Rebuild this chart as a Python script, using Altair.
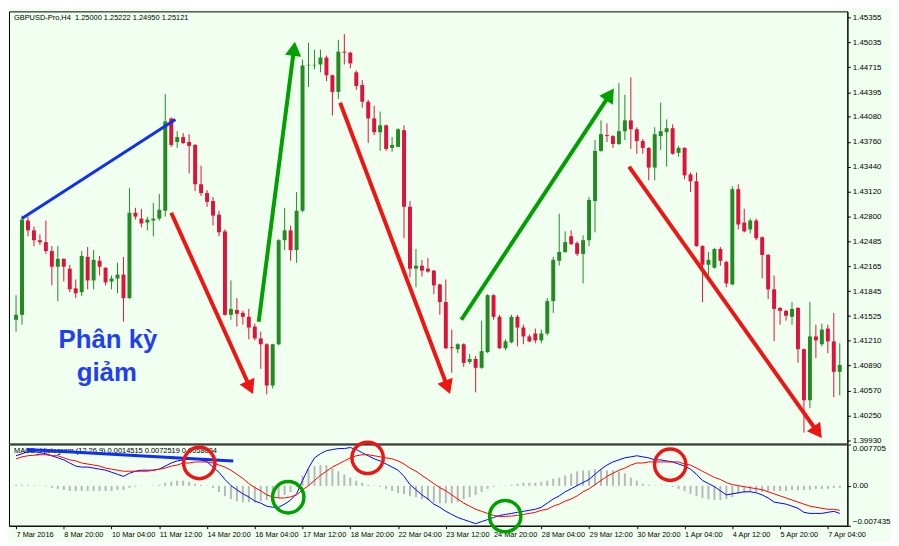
import json
import altair as alt
import pandas as pd

# ---------------- data ----------------
x_labels = ["7 Mar 2016", "8 Mar 20:00", "10 Mar 04:00", "11 Mar 12:00", "14 Mar 20:00",
            "16 Mar 04:00", "17 Mar 12:00", "18 Mar 20:00", "22 Mar 04:00", "23 Mar 12:00",
            "24 Mar 20:00", "28 Mar 04:00", "29 Mar 12:00", "30 Mar 20:00", "1 Apr 04:00",
            "4 Apr 12:00", "5 Apr 20:00", "7 Apr 04:00"]
x_label_pos = [0, 8, 16, 24, 32, 40, 48, 56, 64, 72, 80, 88, 96, 104, 112, 120, 128, 136]

price_ticks = [1.45355, 1.45035, 1.44715, 1.44395, 1.44080, 1.43760, 1.43440, 1.43120, 1.42800,
               1.42485, 1.42165, 1.41845, 1.41525, 1.41210, 1.40890, 1.40570, 1.40250, 1.39930]
macd_ticks = [0.007705, 0.0, -0.007435]

opens = [
    1.41478, 1.41541, 1.42750, 1.42624, 1.42498, 1.42473, 1.42359, 1.42158, 1.42259, 1.42133,
    1.41881, 1.41831, 1.42284, 1.41982, 1.42234, 1.42145, 1.41969, 1.42007, 1.42057, 1.41755,
    1.42850, 1.42775, 1.42724, 1.42750, 1.42775, 1.42875, 1.44059, 1.43757, 1.43820, 1.43757,
    1.43719, 1.43215, 1.43102, 1.43001, 1.42825, 1.42611, 1.41541, 1.41604, 1.41566, 1.41516,
    1.41390, 1.41239, 1.41164, 1.40635, 1.41164, 1.42498, 1.42624, 1.42372, 1.42875, 1.44738,
    1.44738, 1.44751, 1.44839, 1.44613, 1.44399, 1.44915, 1.44902, 1.44650, 1.44487, 1.44273,
    1.44059, 1.43882, 1.43971, 1.43681, 1.43694, 1.43908, 1.42926, 1.42133, 1.42171, 1.42133,
    1.42108, 1.41931, 1.41705, 1.41126, 1.41101, 1.41164, 1.40937, 1.40975, 1.40862, 1.41063,
    1.41793, 1.41516, 1.41113, 1.41189, 1.41516, 1.41378, 1.41264, 1.41302, 1.41214, 1.41302,
    1.41717, 1.42234, 1.42347, 1.42548, 1.42460, 1.42322, 1.42498, 1.43001, 1.43643, 1.43845,
    1.43832, 1.43731, 1.43895, 1.44034, 1.43920, 1.43769, 1.43681, 1.43429, 1.43832, 1.43882,
    1.43933, 1.43618, 1.43681, 1.43341, 1.43253, 1.42422, 1.42183, 1.42145, 1.42385, 1.42221,
    1.41931, 1.43152, 1.42724, 1.42636, 1.42750, 1.42536, 1.42309, 1.41868, 1.41629, 1.41592,
    1.41516, 1.41629, 1.41101, 1.40446, 1.41264, 1.41164, 1.41365, 1.41201, 1.40811]

highs = [
    1.41793, 1.42813, 1.42800, 1.42674, 1.42573, 1.42750, 1.42422, 1.42422, 1.42265, 1.42183,
    1.41994, 1.42359, 1.42410, 1.42372, 1.42296, 1.42150, 1.42045, 1.42208, 1.42284, 1.43165,
    1.42913, 1.42901, 1.42800, 1.42976, 1.43089, 1.44373, 1.44071, 1.43895, 1.43870, 1.43857,
    1.43731, 1.43454, 1.43140, 1.43052, 1.42875, 1.42636, 1.41982, 1.41755, 1.41592, 1.41617,
    1.41428, 1.41327, 1.41176, 1.41170, 1.42510, 1.42913, 1.42687, 1.43115, 1.44814, 1.45028,
    1.44940, 1.44940, 1.44864, 1.44620, 1.45066, 1.45141, 1.44915, 1.44675, 1.44550, 1.44298,
    1.44222, 1.44147, 1.43980, 1.43820, 1.43933, 1.43971, 1.43001, 1.42385, 1.42246, 1.42271,
    1.42115, 1.41940, 1.41994, 1.41352, 1.41176, 1.41176, 1.41038, 1.41013, 1.41466, 1.41806,
    1.41806, 1.41541, 1.41227, 1.41541, 1.41541, 1.41415, 1.41290, 1.41365, 1.41352, 1.41755,
    1.42284, 1.42838, 1.42611, 1.42624, 1.42485, 1.42561, 1.43052, 1.43782, 1.44034, 1.43996,
    1.43845, 1.44512, 1.44361, 1.44587, 1.43945, 1.43794, 1.43690, 1.43945, 1.44260, 1.44046,
    1.43983, 1.43706, 1.43690, 1.43366, 1.43366, 1.42435, 1.42347, 1.42397, 1.42410, 1.42234,
    1.43190, 1.43215, 1.42901, 1.42775, 1.42775, 1.42548, 1.42322, 1.42045, 1.41642, 1.41604,
    1.41705, 1.41642, 1.41110, 1.41705, 1.41415, 1.41428, 1.41415, 1.41566, 1.41176]

lows = [
    1.41327, 1.41415, 1.42548, 1.42422, 1.42435, 1.42322, 1.41919, 1.41717, 1.41969, 1.41831,
    1.41755, 1.41780, 1.41868, 1.41868, 1.42045, 1.41919, 1.41868, 1.41818, 1.41453, 1.41743,
    1.42762, 1.42662, 1.42624, 1.42548, 1.42750, 1.42800, 1.43694, 1.43681, 1.43731, 1.43354,
    1.43127, 1.43064, 1.42926, 1.42687, 1.42548, 1.41530, 1.41478, 1.41390, 1.41415, 1.41227,
    1.41214, 1.40849, 1.40522, 1.40597, 1.41150, 1.42372, 1.42234, 1.42208, 1.42860, 1.44461,
    1.44688, 1.44650, 1.44537, 1.44096, 1.44310, 1.44751, 1.44701, 1.44424, 1.44197, 1.43744,
    1.43845, 1.43643, 1.43643, 1.43631, 1.43690, 1.42523, 1.42020, 1.41894, 1.42032, 1.42082,
    1.41806, 1.41541, 1.41101, 1.40799, 1.41050, 1.40874, 1.40912, 1.40547, 1.40849, 1.41050,
    1.41478, 1.41101, 1.41088, 1.41176, 1.41138, 1.41164, 1.41189, 1.41176, 1.41176, 1.41277,
    1.41566, 1.42171, 1.42334, 1.42435, 1.42296, 1.41944, 1.42422, 1.42599, 1.43631, 1.43757,
    1.43681, 1.43719, 1.43782, 1.43668, 1.43606, 1.43606, 1.43266, 1.43266, 1.43656, 1.43442,
    1.43593, 1.43568, 1.43278, 1.43115, 1.42415, 1.41705, 1.42045, 1.42133, 1.42171, 1.41894,
    1.41919, 1.42636, 1.42599, 1.42586, 1.42498, 1.42007, 1.41743, 1.41201, 1.41415, 1.41466,
    1.41415, 1.40925, 1.40031, 1.40345, 1.40987, 1.41138, 1.41050, 1.40484, 1.40509]

closes = [
    1.41541, 1.42762, 1.42624, 1.42498, 1.42473, 1.42359, 1.42158, 1.42259, 1.42158, 1.41868,
    1.41818, 1.42296, 1.41982, 1.42246, 1.42158, 1.41957, 1.42007, 1.42057, 1.41755, 1.42850,
    1.42800, 1.42712, 1.42762, 1.42775, 1.42888, 1.44021, 1.43719, 1.43820, 1.43744, 1.43706,
    1.43215, 1.43102, 1.42989, 1.42813, 1.42599, 1.41541, 1.41617, 1.41554, 1.41516, 1.41378,
    1.41239, 1.41164, 1.40635, 1.41164, 1.42498, 1.42624, 1.42372, 1.42875, 1.44738, 1.44746,
    1.44746, 1.44839, 1.44613, 1.44399, 1.44915, 1.44902, 1.44764, 1.44474, 1.44273, 1.44059,
    1.43882, 1.43971, 1.43668, 1.43719, 1.43920, 1.42926, 1.42133, 1.42171, 1.42108, 1.42095,
    1.41919, 1.41705, 1.41113, 1.41113, 1.41164, 1.40925, 1.40975, 1.40862, 1.41075, 1.41793,
    1.41516, 1.41113, 1.41201, 1.41516, 1.41378, 1.41264, 1.41201, 1.41214, 1.41302, 1.41717,
    1.42246, 1.42347, 1.42473, 1.42448, 1.42322, 1.42498, 1.43014, 1.43643, 1.43857, 1.43832,
    1.43731, 1.43895, 1.44034, 1.43920, 1.43769, 1.43681, 1.43429, 1.43857, 1.43895, 1.43933,
    1.43606, 1.43681, 1.43329, 1.43253, 1.42422, 1.42183, 1.42246, 1.42385, 1.42234, 1.41944,
    1.43152, 1.42699, 1.42611, 1.42750, 1.42523, 1.42309, 1.41868, 1.41617, 1.41592, 1.41529,
    1.41617, 1.41101, 1.40446, 1.41264, 1.41214, 1.41352, 1.41201, 1.40811, 1.40899]

macd_line = [
    0.00560, 0.00598, 0.00636, 0.00636, 0.00617, 0.00598, 0.00560, 0.00521, 0.00483, 0.00425,
    0.00368, 0.00349, 0.00349, 0.00330, 0.00310, 0.00291, 0.00253, 0.00215, 0.00176, 0.00234,
    0.00272, 0.00291, 0.00291, 0.00291, 0.00310, 0.00368, 0.00425, 0.00464, 0.00483, 0.00502,
    0.00502, 0.00483, 0.00445, 0.00349, 0.00253, 0.00119, 0.00004, -0.00073, -0.00149, -0.00207,
    -0.00284, -0.00322, -0.00379, -0.00399, -0.00399, -0.00341, -0.00264, -0.00149, 0.00100, 0.00330,
    0.00521, 0.00598, 0.00655, 0.00675, 0.00694, 0.00694, 0.00713, 0.00675, 0.00617, 0.00560,
    0.00502, 0.00464, 0.00406, 0.00349, 0.00291, 0.00176, 0.00023, -0.00073, -0.00169, -0.00245,
    -0.00341, -0.00399, -0.00475, -0.00533, -0.00590, -0.00629, -0.00667, -0.00705, -0.00667, -0.00629,
    -0.00590, -0.00552, -0.00533, -0.00514, -0.00494, -0.00475, -0.00456, -0.00437, -0.00399, -0.00322,
    -0.00245, -0.00188, -0.00111, -0.00054, 0.00004, 0.00061, 0.00119, 0.00215, 0.00310, 0.00387,
    0.00445, 0.00483, 0.00521, 0.00540, 0.00560, 0.00540, 0.00521, 0.00483, 0.00483, 0.00464,
    0.00445, 0.00406, 0.00368, 0.00310, 0.00215, 0.00100, 0.00042, -0.00015, -0.00092, -0.00169,
    -0.00149, -0.00130, -0.00111, -0.00111, -0.00130, -0.00169, -0.00226, -0.00303, -0.00322, -0.00341,
    -0.00379, -0.00418, -0.00494, -0.00514, -0.00514, -0.00514, -0.00494, -0.00475, -0.00514]

signal_line = [
    0.00502, 0.00540, 0.00560, 0.00570, 0.00579, 0.00579, 0.00560, 0.00560, 0.00521, 0.00483,
    0.00464, 0.00425, 0.00406, 0.00387, 0.00368, 0.00330, 0.00310, 0.00291, 0.00272, 0.00272,
    0.00272, 0.00272, 0.00272, 0.00291, 0.00310, 0.00330, 0.00368, 0.00387, 0.00425, 0.00425,
    0.00445, 0.00445, 0.00445, 0.00425, 0.00387, 0.00349, 0.00291, 0.00215, 0.00138, 0.00042,
    -0.00034, -0.00092, -0.00169, -0.00207, -0.00226, -0.00226, -0.00207, -0.00169, -0.00073, 0.00004,
    0.00100, 0.00195, 0.00272, 0.00349, 0.00406, 0.00464, 0.00521, 0.00560, 0.00579, 0.00579,
    0.00560, 0.00540, 0.00521, 0.00502, 0.00464, 0.00406, 0.00330, 0.00272, 0.00195, 0.00119,
    0.00042, -0.00034, -0.00092, -0.00169, -0.00245, -0.00322, -0.00379, -0.00437, -0.00475, -0.00514,
    -0.00552, -0.00571, -0.00571, -0.00562, -0.00552, -0.00533, -0.00514, -0.00494, -0.00456, -0.00437,
    -0.00379, -0.00341, -0.00284, -0.00245, -0.00188, -0.00111, -0.00054, 0.00023, 0.00100, 0.00176,
    0.00234, 0.00291, 0.00330, 0.00387, 0.00425, 0.00425, 0.00445, 0.00445, 0.00445, 0.00445,
    0.00445, 0.00445, 0.00406, 0.00387, 0.00330, 0.00272, 0.00215, 0.00157, 0.00119, 0.00061,
    0.00023, 0.00004, -0.00015, -0.00034, -0.00054, -0.00073, -0.00111, -0.00149, -0.00188, -0.00226,
    -0.00264, -0.00303, -0.00341, -0.00379, -0.00399, -0.00418, -0.00437, -0.00437, -0.00456]

histogram = [
    0.00019, 0.00019, 0.00019, 0.00010, 0.00005, -0.00010, -0.00038, -0.00057, -0.00077, -0.00096,
    -0.00096, -0.00096, -0.00096, -0.00096, -0.00096, -0.00096, -0.00096, -0.00077, -0.00077, -0.00038,
    -0.00019, 0.00005, 0.00005, 0.00010, 0.00019, 0.00057, 0.00077, 0.00096, 0.00096, 0.00077,
    0.00038, 0.00019, 0.00005, -0.00038, -0.00115, -0.00192, -0.00249, -0.00287, -0.00307, -0.00307,
    -0.00307, -0.00287, -0.00268, -0.00249, -0.00230, -0.00172, -0.00115, -0.00019, 0.00192, 0.00307,
    0.00364, 0.00383, 0.00383, 0.00326, 0.00268, 0.00211, 0.00153, 0.00096, 0.00057, 0.00019,
    0.00005, -0.00019, -0.00057, -0.00096, -0.00134, -0.00153, -0.00192, -0.00211, -0.00249, -0.00268,
    -0.00307, -0.00326, -0.00326, -0.00326, -0.00307, -0.00249, -0.00211, -0.00172, -0.00115, -0.00057,
    -0.00019, 0.00005, 0.00005, 0.00019, 0.00038, 0.00057, 0.00057, 0.00057, 0.00077, 0.00096,
    0.00134, 0.00153, 0.00192, 0.00230, 0.00268, 0.00287, 0.00287, 0.00307, 0.00307, 0.00287,
    0.00287, 0.00268, 0.00230, 0.00153, 0.00096, 0.00038, 0.00019, 0.00005, 0.00005, 0.00005,
    -0.00019, -0.00057, -0.00096, -0.00153, -0.00192, -0.00230, -0.00249, -0.00268, -0.00268, -0.00249,
    -0.00211, -0.00153, -0.00134, -0.00115, -0.00115, -0.00115, -0.00096, -0.00096, -0.00096, -0.00096,
    -0.00077, -0.00077, -0.00077, -0.00077, -0.00057, -0.00057, -0.00057, -0.00038, -0.00038]

# annotations (bar index, price)
trend_x0 = [0.98, 26.0, 40.65, 54.3, 74.6, 102.7]
trend_y0 = [1.42775, 1.42850, 1.41453, 1.44260, 1.41478, 1.43442]
trend_x1 = [26.7, 39.2, 46.57, 72.3, 99.5, 134.3]
trend_y1 = [1.44046, 1.40610, 1.44952, 1.40612, 1.44367, 1.40036]
trend_kind = ["blue", "red", "green", "red", "green", "red"]
head_angle = [155.5, 7.5, 159.1, 33.6, 144.4]

label_text = ["Phân kỳ", "giảm"]
label_x = [15.4, 15.2]
label_y = [1.41113, 1.40698]

macd_div_x = [1.8, 36.4]
macd_div_y = [0.00675, 0.00464]
circle_x = [30.7, 45.6, 58.9, 81.95, 109.6]
circle_y = [0.00425, -0.00213, 0.00521, -0.00565, 0.00393]
circle_kind = ["red", "green", "red", "green", "red"]

# ---------------- styling ----------------
UP = "#228B22"
DOWN = "#DC143C"
BG = "#F0FFF0"
ANN = {"blue": "#1030F0", "red": "#EE1515", "green": "#00A000"}
FONT = "Liberation Sans"

n = len(opens)
df = pd.DataFrame({"i": list(range(n)), "open": opens, "high": highs,
                   "low": lows, "close": closes})
df["dir"] = ["up" if c >= o else "down" for o, c in zip(opens, closes)]

W = 846
H_MAIN = 436
H_MACD = 82

xs = alt.Scale(domain=[-0.35, 138.45], nice=False, zero=False)
ys = alt.Scale(domain=[1.39892, 1.45431], nice=False, zero=False)
ms = alt.Scale(domain=[-0.007435, 0.007705], nice=False, zero=False)

ax_price = alt.Axis(orient="right", values=price_ticks, format=".5f", title=None,
                    tickSize=3, labelPadding=2, labelOverlap=False, grid=False,
                    labelFontSize=8)
ax_macd = alt.Axis(orient="right", values=macd_ticks, title=None, tickSize=3,
                   labelPadding=2, labelOverlap=False, labelFlush=True, grid=False,
                   labelFontSize=8,
                   labelExpr="datum.value == 0 ? '0.00' : format(datum.value, '.6f')")
ax_x = alt.Axis(orient="bottom", values=x_label_pos, title=None, tickSize=3,
                labelAlign="left", labelPadding=2, labelOverlap=False,
                labelFlush=False, grid=False, labelFontSize=7.4,
                labelExpr=json.dumps(x_labels) + "[round(datum.value / 8)]")

color_dir = alt.Color("dir:N", scale=alt.Scale(domain=["up", "down"], range=[UP, DOWN]),
                      legend=None)

base = alt.Chart(df).encode(x=alt.X("i:Q", scale=xs, axis=None))
wicks = base.mark_rule(strokeWidth=1).encode(
    y=alt.Y("low:Q", scale=ys, axis=ax_price), y2="high:Q", color=color_dir)
bodies = base.mark_bar(size=4).encode(
    y=alt.Y("open:Q", scale=ys, axis=ax_price), y2="close:Q", color=color_dir)

tr = pd.DataFrame({"x0": trend_x0, "y0": trend_y0, "x1": trend_x1, "y1": trend_y1,
                   "col": [ANN[k] for k in trend_kind],
                   "w": [3 if k == "blue" else 4 for k in trend_kind]})
trend_lines = alt.Chart(tr).mark_rule(strokeCap="butt").encode(
    x=alt.X("x0:Q", scale=xs, axis=None), x2="x1:Q",
    y=alt.Y("y0:Q", scale=ys, axis=ax_price), y2="y1:Q",
    color=alt.Color("col:N", scale=None),
    strokeWidth=alt.StrokeWidth("w:Q", scale=None))

hd = pd.DataFrame({"x": trend_x1[1:], "y": trend_y1[1:], "ang": head_angle,
                   "col": [ANN[k] for k in trend_kind[1:]]})
heads = alt.Chart(hd).mark_point(shape="triangle-up", filled=True, size=270,
                                 opacity=1, strokeWidth=0).encode(
    x=alt.X("x:Q", scale=xs, axis=None),
    y=alt.Y("y:Q", scale=ys, axis=ax_price),
    angle=alt.Angle("ang:Q", scale=None),
    color=alt.Color("col:N", scale=None))

lbl = pd.DataFrame({"x": label_x, "y": label_y, "t": label_text})
labels = alt.Chart(lbl).mark_text(font=FONT, fontSize=26, fontWeight="bold",
                                  color="#1E40F0", align="center",
                                  baseline="alphabetic").encode(
    x=alt.X("x:Q", scale=xs, axis=None),
    y=alt.Y("y:Q", scale=ys, axis=ax_price), text="t:N")

title_main = alt.Chart(pd.DataFrame({"t": ["GBPUSD-Pro,H4 \u00a01.25000 1.25222 1.24950 1.25121"]})
                       ).mark_text(font=FONT, fontSize=7.5, align="left", baseline="middle",
                                   color="#000000").encode(
    x=alt.value(5), y=alt.value(7), text="t:N")

main = alt.layer(wicks, bodies, trend_lines, heads, labels, title_main).properties(
    width=W, height=H_MAIN)

# ---------------- MACD panel ----------------
mdf = pd.DataFrame({"i": list(range(n)), "macd": macd_line, "signal": signal_line,
                    "hist": histogram, "zero": [0.0] * n})
mbase = alt.Chart(mdf).encode(x=alt.X("i:Q", scale=xs, axis=ax_x))
hist_bars = mbase.mark_bar(size=2, color="#B8B8B8").encode(
    y=alt.Y("hist:Q", scale=ms, axis=ax_macd), y2="zero:Q")
macd_l = mbase.mark_line(color="#0000FF", strokeWidth=1).encode(
    y=alt.Y("macd:Q", scale=ms, axis=ax_macd))
sig_l = mbase.mark_line(color="#FF0000", strokeWidth=1).encode(
    y=alt.Y("signal:Q", scale=ms, axis=ax_macd))

title_macd = alt.Chart(pd.DataFrame({"t": ["MACD_Histogram (12,26,9) 0.0014515 0.0072519 0.0058004"]})
                       ).mark_text(font=FONT, fontSize=7.5, align="left", baseline="middle",
                                   color="#000000").encode(
    x=alt.value(5), y=alt.value(7), text="t:N")

div = pd.DataFrame({"x0": [macd_div_x[0]], "x1": [macd_div_x[1]],
                    "y0": [macd_div_y[0]], "y1": [macd_div_y[1]]})
div_line = alt.Chart(div).mark_rule(color=ANN["blue"], strokeWidth=3).encode(
    x=alt.X("x0:Q", scale=xs, axis=ax_x), x2="x1:Q",
    y=alt.Y("y0:Q", scale=ms, axis=ax_macd), y2="y1:Q")

cc = pd.DataFrame({"x": circle_x, "y": circle_y, "col": [ANN[k] for k in circle_kind]})
circles = alt.Chart(cc).mark_point(shape="circle", filled=False, size=1000,
                                   strokeWidth=3.5, opacity=1).encode(
    x=alt.X("x:Q", scale=xs, axis=ax_x),
    y=alt.Y("y:Q", scale=ms, axis=ax_macd),
    color=alt.Color("col:N", scale=None))

macd_panel = alt.layer(hist_bars, macd_l, sig_l, title_macd, div_line, circles).properties(
    width=W, height=H_MACD)

chart = alt.vconcat(main, macd_panel, spacing=1, bounds="flush").properties(
    padding=0
).configure(background=BG).configure_view(
    stroke="#000000", strokeWidth=1
).configure_axis(
    labelFont=FONT, labelFontSize=8, labelColor="#000000",
    tickColor="#000000", domainColor="#000000", grid=False
)

chart.save("out.html", embed_options={"renderer": "svg", "actions": False})
